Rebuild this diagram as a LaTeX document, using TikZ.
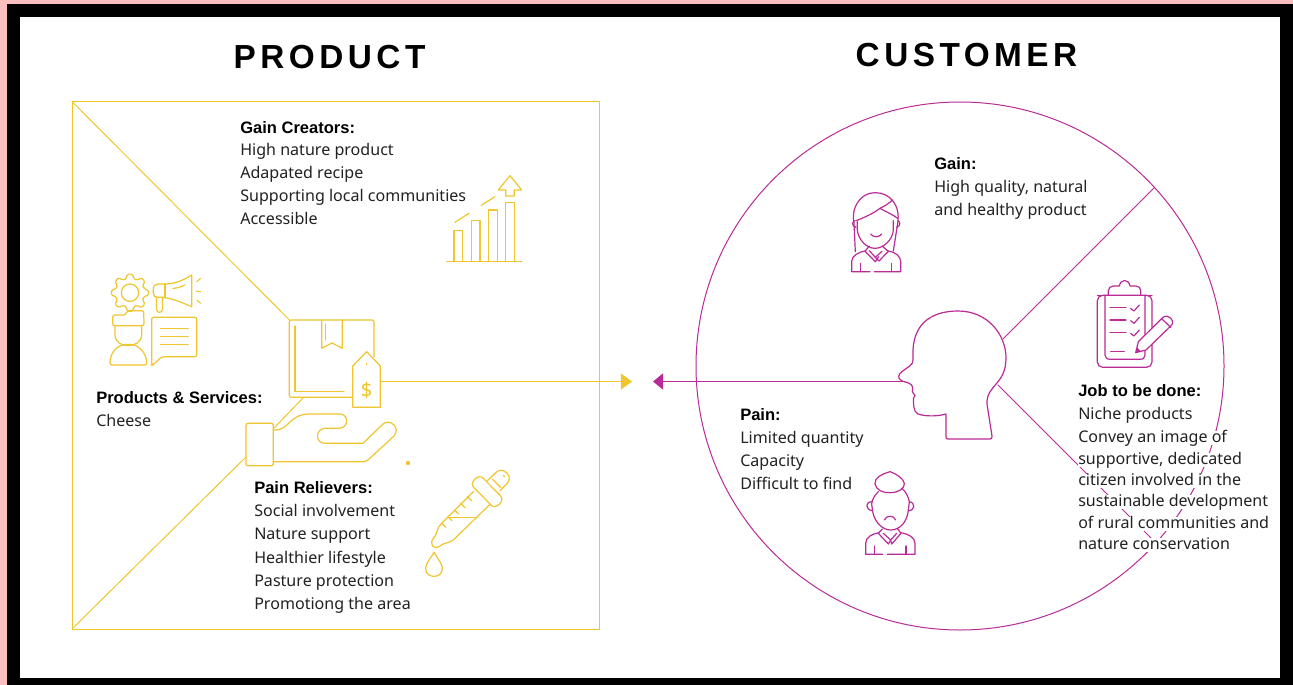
\documentclass[tikz,border=0pt]{standalone}
\usepackage{fontspec}
\usetikzlibrary{arrows.meta}
\setmainfont{Noto Sans}
\newfontfamily\titlefont[LetterSpace=13.5]{Liberation Sans}
\newfontfamily\headfont{Liberation Sans}
\definecolor{yel}{HTML}{EFC62E}
\definecolor{mag}{HTML}{B92B96}
\definecolor{ink}{HTML}{222222}
\definecolor{blush}{HTML}{FABEBE}
\tikzset{
  lbl/.style={anchor=base west,inner sep=0pt,text=ink,font=\fontsize{12.05}{14}\selectfont},
  hd/.style={lbl,text=black,font=\headfont\fontsize{12.4}{14}\selectfont\bfseries},
  job/.style={lbl,fill=white,text height=8.5pt,text depth=2.5pt},
  title/.style={anchor=base,inner sep=0pt,text=black,font=\titlefont\fontsize{25}{30}\selectfont\bfseries},
  yl/.style={draw=yel,line width=0.9pt,line join=round,line cap=round},
  yt/.style={draw=yel,line width=0.75pt,line join=round,line cap=round},
  ml/.style={draw=mag,line width=0.9pt,line join=round,line cap=round},
  mt/.style={draw=mag,line width=0.75pt,line join=round,line cap=round},
}
\begin{document}
\begin{tikzpicture}[x=0.75pt,y=-0.75pt]
\useasboundingbox (0,0) rectangle (1293,685);
% frame
\fill[black] (0,0) rectangle (1293,685);
\fill[white] (20,17) rectangle (1280,678);
\fill[blush] (0,0) rectangle (1293,4);
\fill[blush] (0,0) rectangle (7,685);
% titles
\node[title] (tprod) at (329.5,69) {PRODUCT};
\node[title] (tcust) at (966.5,67) {CUSTOMER};
% square and diagonals
\draw[yt] (72,101.5) rectangle (599.5,629);
\coordinate (sqtl) at (72,101.5);
\coordinate (sqbl) at (72,629);
\coordinate (boxtl) at (289.5,320);
\coordinate (boxbl) at (303,398);
\coordinate (cuffr) at (274,428);
\coordinate (cuffl) at (246,457);
\draw[yt] (sqtl) -- (boxtl);
\draw[yt] (boxbl) -- (cuffr);
\draw[yt] (cuffl) -- (sqbl);
% box icon
\draw[yl,rounded corners=1.5] (352.7,397.3) -- (289.3,397.3) -- (289.3,320) -- (374,320) -- (374,357);
\draw[yl] (295,326) -- (295,391.7) -- (344,391.7);
\draw[yl] (321.7,320) -- (321.7,348.3) -- (332,343) -- (342.3,348.3) -- (342.3,320);
\draw[yl] (325.7,324) -- (325.7,340);
% tag
\draw[yl] (366.7,351.7) -- (380.3,366) -- (380.3,407.3) -- (352.7,407.3) -- (352.7,366) -- cycle;
\draw[yl] (366.7,363.5) -- (366.7,364.5);
\node[inner sep=0pt,text=yel,font=\fontsize{15}{15}\selectfont] (dollar) at (366.7,390) {\$};
% hand
\draw[yl,rounded corners=1.5] (246,423.3) rectangle (273.3,465.7);
\draw[yl] (273.3,430) .. controls (290,431) and (288,414) .. (310,414) -- (340,414)
  .. controls (349,414) and (349,428) .. (339,428.3) -- (325,428.3)
  .. controls (315,429) and (315,443.3) .. (325,443.3) -- (363,443.3) -- (383,424)
  .. controls (390,418) and (401,428) .. (394,436) -- (368,460) .. controls (366.5,461.2) and (366,461.7) .. (364,461.7) -- (273.3,461.7);
\fill[yel] (408,463) circle (2.2);
% connectors
\coordinate (tagr) at (380.3,381.5);
\coordinate (ytip) at (632,381.5);
\draw[yt,-{Triangle[length=8.3pt,width=12pt,fill=yel]}] (tagr) -- (ytip);
\coordinate (nose) at (905,381.5);
\coordinate (mtip) at (653,381.5);
\draw[ml,-{Triangle[length=7.5pt,width=12pt,fill=mag]}] (nose) -- (mtip);
% gear
\draw[yl] (130,292.7) circle (8.7);
\draw[yl,rounded corners=1.2] ({130+14.5*cos(-14)},{292.7+14.5*sin(-14)})
  \foreach \a in {0,45,...,315}{
    -- ({130+14.5*cos(\a-14)},{292.7+14.5*sin(\a-14)})
    -- ({130+18.8*cos(\a-9)},{292.7+18.8*sin(\a-9)})
    -- ({130+18.8*cos(\a+9)},{292.7+18.8*sin(\a+9)})
    -- ({130+14.5*cos(\a+14)},{292.7+14.5*sin(\a+14)})
  } -- cycle;
% megaphone
\draw[yl] (191.7,275) .. controls (181,282) and (172,284) .. (165,284) -- (158,284)
  .. controls (155,284) and (153,286) .. (153.3,290) -- (153.3,293) .. controls (153.5,296) and (155,297.3) .. (157,297.3)
  -- (162,297.3) .. controls (172,298) and (183,303) .. (191.7,306.7) -- cycle;
\draw[yl] (165,284) -- (165,297.3);
\draw[yl] (173,288.5) .. controls (178,288) and (181,286.5) .. (185,285);
\draw[yl] (156.5,297.5) -- (156.5,309) .. controls (156.5,313.5) and (162.5,313.5) .. (162.5,309) -- (162.5,297.5);
\draw[yt] (196.7,281.7) -- (200.7,278.3);
\draw[yt] (196,291) -- (200.7,291.7);
\draw[yt] (196.7,300) -- (200.7,303.3);
% person
\draw[yl,rounded corners=1.5] (112.7,325.7) -- (112.7,315) -- (122,315) .. controls (125,315) and (127,310.7) .. (131,310.7) -- (143.7,310.7) -- (144,325.7) -- cycle;
\draw[yl] (115,326) -- (115,334) .. controls (115,343) and (122,345.5) .. (128,345.5) .. controls (134,345.5) and (141.7,343) .. (141.7,334) -- (141.7,326);
\draw[yl,rounded corners=1.5] (110,365) .. controls (110,352) and (118,344.5) .. (128,344.5) .. controls (138,344.5) and (146.5,352) .. (146.7,365) -- cycle;
% bubble
\draw[yl,rounded corners=1.5] (151.7,317.3) -- (196.7,317.3) -- (196.7,356.7) -- (161.7,356.7) -- (153,365) -- (151.7,365) -- cycle;
\draw[yl] (160.7,328.3) -- (188.3,328.3);
\draw[yl] (160.7,336.7) -- (188.3,336.7);
\draw[yl] (160.7,344.7) -- (188.3,344.7);
% chart
\draw[yl] (446.7,261.7) -- (521.7,261.7);
\draw[yl] (454,261.7) -- (454,230.7) -- (462.7,230.7) -- (462.7,261.7);
\draw[yl] (471.3,261.7) -- (471.3,220.7) -- (480,220.7) -- (480,261.7);
\draw[yl] (488.7,261.7) -- (488.7,210) -- (497.3,210) -- (497.3,261.7);
\draw[yl] (505.7,261.7) -- (505.7,202.7) -- (514.3,202.7) -- (514.3,261.7);
\draw[yl] (505.7,196) -- (505.7,190) -- (498.3,190) -- (510,175.7) -- (521.7,190) -- (514.3,190) -- (514.3,196) -- cycle;
\draw[yl] (455,222.3) -- (469,213.3);
\draw[yl] (481.3,205.3) -- (495,196.7);
% dropper
\begin{scope}[shift={(410,460)},x=0.25pt,y=-0.25pt]
\draw[yl] (190,95) -- (92,193) .. controls (80,205) and (82,222) .. (72,233) .. controls (55,250) and (70,272) .. (90,258) .. controls (100,248) and (118,250) .. (130,240) -- (240,133);
\draw[yl] (219,54) -- (272,108) .. controls (286,122) and (258,150) .. (244,136) -- (191,82) .. controls (177,68) and (205,40) .. (219,54) -- cycle;
\draw[yl] (232,62) -- (262,34) .. controls (275,25) and (290,35) .. (297,48) .. controls (300,60) and (295,68) .. (285,77) -- (270,92);
\draw[yl] (248,58) -- (272,82);
\draw[yl] (280,47) -- (284,50);
\draw[yl] (172,110) -- (185,122);
\draw[yl] (152,130) -- (165,143);
\draw[yl] (133,150) -- (146,162);
\draw[yl] (113,170) -- (126,182);
\draw[yl] (96,190) -- (107,202);
\draw[yl] (120,172) -- (198,172);
\draw[yl] (72,277) .. controls (62,295) and (47,310) .. (47,325) .. controls (47,342) and (60,349) .. (72,349) .. controls (85,349) and (97,342) .. (97,325) .. controls (97,310) and (82,295) .. (72,277) -- cycle;
\end{scope}
% circle and head
\draw[mt] (960,366) circle (264);
\coordinate (headu) at (1003,339);
\coordinate (rimu) at (1154.5,187.5);
\coordinate (headl) at (998,385);
\coordinate (riml) at (1155.9,542.9);
\draw[mt] (headu) -- (rimu);
\draw[mt] (headl) -- (riml);
\draw[ml] (913,355) .. controls (912,320) and (936,311) .. (958,311)
  .. controls (988,311) and (1006,335) .. (1006,358)
  .. controls (1006,385) and (986,385) .. (987,404) -- (992,436) .. controls (992.3,438) and (991.5,439) .. (990,439)
  -- (948,439) .. controls (946.5,439) and (946,438.5) .. (946,437) -- (946,414)
  .. controls (935,417) and (924,416) .. (918,414) .. controls (913,412) and (913.5,403) .. (913.5,398)
  -- (915,395.5) -- (912.5,392) -- (912.5,387) .. controls (912,383) and (906,382.5) .. (902,381)
  .. controls (897,378) and (898,375) .. (902,371.5) .. controls (908,367) and (913,365) .. (913,360) -- cycle;
% woman
\begin{scope}[shift={(830,180)},x=0.25pt,y=-0.25pt]
\draw[ml] (76,215) -- (72,130) .. controls (62,85) and (90,38) .. (135,38) .. controls (180,38) and (212,75) .. (203,130) -- (190,213);
\draw[ml] (78,122) .. controls (105,112) and (130,100) .. (150,85) .. controls (165,77) and (178,70) .. (187,60);
\draw[ml] (150,85) .. controls (168,95) and (190,105) .. (203,115);
\draw[ml] (82,125) -- (82,150) .. controls (85,180) and (110,205) .. (135,205) .. controls (160,205) and (188,180) .. (190,150) -- (190,122);
\draw[ml] (75,122) .. controls (65,125) and (65,138) .. (78,142);
\draw[ml] (203,122) .. controls (212,125) and (212,138) .. (200,142);
\draw[ml] (122,162) .. controls (130,173) and (147,173) .. (155,162);
\draw[ml] (118,198) -- (105,214) -- (136,245) -- (146,230);
\draw[ml] (156,198) -- (175,214) -- (147,243) -- (136,232) -- (118,212);
\draw[ml] (136,232) -- (156,214);
\draw[ml] (120,275) -- (65,275) -- (65,245) .. controls (65,228) and (85,216) .. (105,213);
\draw[ml] (133,275) -- (212,275) -- (212,245) .. controls (212,228) and (195,216) .. (175,213);
\draw[ml] (92,250) -- (92,275);
\draw[ml] (185,250) -- (185,275);
\end{scope}
% man
\begin{scope}[shift={(850,460)},x=0.25pt,y=-0.25pt]
\draw[ml] (120,35) .. controls (95,42) and (72,55) .. (75,72) .. controls (78,90) and (100,100) .. (122,98) .. controls (145,98) and (165,85) .. (163,70) .. controls (160,55) and (140,42) .. (120,35) -- cycle;
\draw[ml] (85,95) .. controls (75,105) and (66,118) .. (65,132) -- (68,155) .. controls (75,190) and (100,210) .. (122,210) .. controls (150,210) and (172,185) .. (175,150) -- (178,125) .. controls (175,110) and (168,95) .. (155,85);
\draw[ml] (66,125) .. controls (45,125) and (45,150) .. (68,152);
\draw[ml] (178,125) .. controls (197,128) and (195,152) .. (175,152);
\draw[ml] (103,180) .. controls (108,165) and (132,165) .. (137,180);
\draw[ml] (97,207) -- (85,220) -- (115,252) -- (122,240) -- (100,220);
\draw[ml] (143,207) -- (153,220) -- (125,252) -- (122,240) -- (140,220);
\draw[ml] (98,283) -- (47,283) -- (47,250) .. controls (47,232) and (65,222) .. (87,218);
\draw[ml] (112,283) -- (195,283) -- (195,250) .. controls (195,232) and (175,222) .. (153,218);
\draw[ml] (73,258) -- (73,283);
\draw[ml] (168,258) -- (168,283);
\end{scope}
% clipboard
\begin{scope}[shift={(1080,270)},x=0.25pt,y=-0.25pt]
\draw[ml,rounded corners=4] (52,76) rectangle (216,292);
\draw[ml] (75,76) -- (75,255) .. controls (75,262) and (80,268) .. (90,268) -- (180,268) .. controls (190,268) and (195,262) .. (195,255) -- (195,76);
\draw[ml] (52,76) -- (216,76);
\draw[ml] (85,76) -- (85,62) .. controls (85,54) and (92,48) .. (100,48) -- (118,48) .. controls (122,26) and (146,26) .. (150,48) -- (168,48) .. controls (176,48) and (182,54) .. (182,62) -- (182,76);
\draw[ml] (90,113) -- (138,113);
\draw[ml] (90,150) -- (138,150);
\draw[ml] (90,187) -- (138,187);
\draw[ml] (92,245) -- (133,245);
\draw[ml] (152,115) -- (162,123) -- (178,105);
\draw[ml] (152,152) -- (162,160) -- (178,142);
\draw[ml] (152,190) -- (162,198) -- (178,180);
\filldraw[ml,fill=white] (175,215) -- (248,143) .. controls (262,128) and (292,155) .. (270,170) -- (198,240) -- (167,248) -- cycle;
\draw[ml] (245,146) -- (272,172);
\fill[mag] (167,248) -- (171,232) -- (183,244) -- cycle;
\end{scope}
% product text
\node[hd] (gc0) at (240,133) {Gain Creators:};
\node[lbl] (gc1) at (240,156) {High nature product};
\node[lbl] (gc2) at (240,178) {Adapated recipe};
\node[lbl] (gc3) at (240,201) {Supporting local communities};
\node[lbl] (gc4) at (240,224) {Accessible};
\node[hd] (ps0) at (96,403) {Products \& Services:};
\node[lbl] (ps1) at (96,426) {Cheese};
\node[hd] (pr0) at (254,493) {Pain Relievers:};
\node[lbl] (pr1) at (254,516) {Social involvement};
\node[lbl] (pr2) at (254,539) {Nature support};
\node[lbl] (pr3) at (254,563) {Healthier lifestyle};
\node[lbl] (pr4) at (254,586) {Pasture protection};
\node[lbl] (pr5) at (254,609) {Promotiong the area};
% customer text
\node[hd] (g0) at (934,169) {Gain:};
\node[lbl] (g1) at (934,192) {High quality, natural};
\node[lbl] (g2) at (934,215) {and healthy product};
\node[hd] (p0) at (740,420) {Pain:};
\node[lbl] (p1) at (740,443) {Limited quantity};
\node[lbl] (p2) at (740,466) {Capacity};
\node[lbl] (p3) at (740,489) {Difficult to find};
\node[hd] (j0) at (1078,396) {Job to be done:};
\node[lbl] (j1) at (1078,419) {Niche products};
\node[job] (j2) at (1078,442) {Convey an image of};
\node[job] (j3) at (1078,464) {supportive, dedicated};
\node[job] (j4) at (1078,485) {citizen involved in the};
\node[job] (j5) at (1078,506) {sustainable development};
\node[job] (j6) at (1078,528) {of rural communities and};
\node[job] (j7) at (1078,549) {nature conservation};
\end{tikzpicture}
\end{document}
